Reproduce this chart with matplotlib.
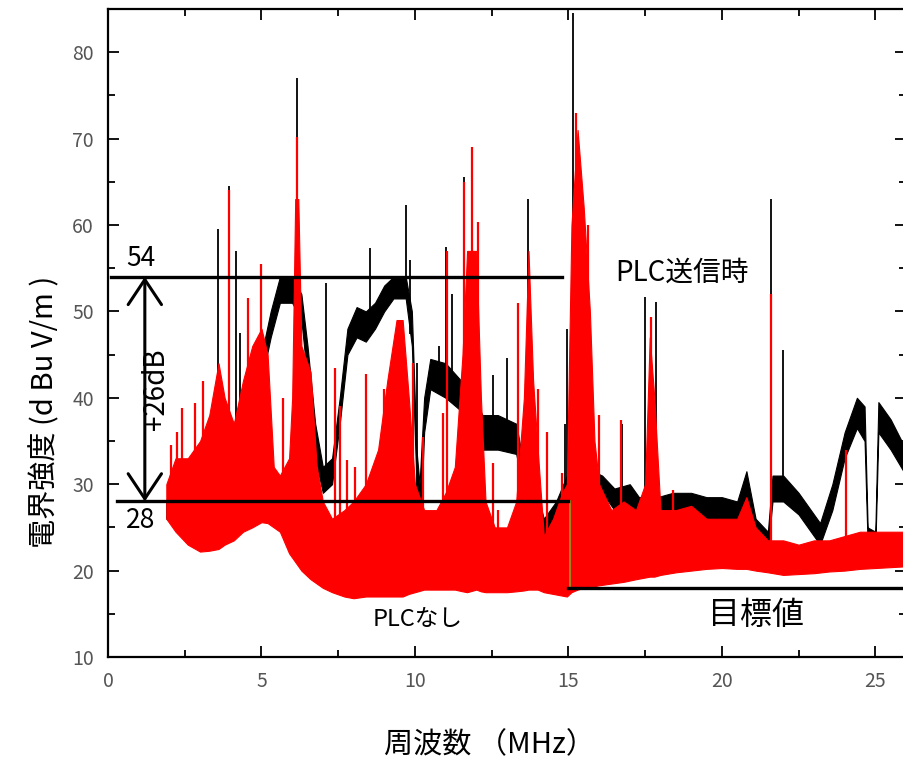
import matplotlib
matplotlib.use("Agg")
import matplotlib.pyplot as plt
import numpy as np

plt.rcParams['font.family'] = ['Noto Sans CJK JP', 'DejaVu Sans']

# PLCなし (red): dense band, lower / upper edge
red_f = [1.9, 2.2, 2.6, 3.0, 3.3, 3.6, 3.8, 4.1, 4.4, 4.7, 5.0, 5.2, 5.4, 5.6, 5.9,
         6.0, 6.1, 6.2, 6.3, 6.6, 6.8, 7.0, 7.3, 7.7, 8.0, 8.4, 8.8, 9.1, 9.4, 9.6,
         9.8, 10.0, 10.3, 10.7, 11.0, 11.3, 11.55, 11.7, 12.0, 12.15, 12.3, 12.6, 13.0,
         13.3, 13.55, 13.7, 13.85, 14.0, 14.2, 14.5, 14.8, 14.95, 15.1, 15.3, 15.5,
         15.7, 15.85, 16.0, 16.4, 16.8, 17.2, 17.5, 17.65, 17.8, 18.0, 18.5, 19.0,
         19.5, 20.0, 20.5, 20.8, 21.1, 21.5, 22.0, 22.5, 23.0, 23.5, 24.0, 24.5,
         25.0, 25.5, 26.0]
red_lo = [26, 24.5, 23, 22.2, 22.3, 22.5, 23, 23.5, 24.5, 25, 25.6, 25.5, 25, 24.5, 22,
          21.5, 21, 20.5, 20, 19, 18.5, 18, 17.5, 17, 16.8, 17, 17, 17, 17, 17,
          17.3, 17.5, 17.8, 17.8, 17.8, 17.8, 17.6, 17.5, 17.8, 17.6, 17.5, 17.5, 17.5,
          17.6, 17.7, 17.8, 17.8, 17.8, 17.5, 17.3, 17.1, 17, 17.5, 17.8, 18,
          18.2, 18.2, 18.3, 18.5, 18.7, 19, 19.2, 19.3, 19.3, 19.5, 19.8, 20,
          20.2, 20.3, 20.2, 20.2, 20, 19.8, 19.5, 19.6, 19.7, 19.9, 20, 20.2,
          20.3, 20.4, 20.5]
red_hi = [30, 33, 33, 35, 38, 44, 40, 37, 42, 46, 48, 45, 32, 31, 33,
          40, 63, 63, 46, 43, 32, 28, 26, 27, 28, 30, 34, 42, 49, 49,
          40, 30, 27, 27, 29, 32, 45, 57, 57, 40, 28, 25, 25,
          28, 40, 57, 42, 34, 24, 26, 29, 30, 60, 71, 62,
          50, 35, 30, 27, 28, 27, 30, 47, 40, 27, 27, 27.5,
          26, 26, 26, 28.5, 25, 23.5, 23.5, 23, 23.5, 23.5, 24, 24.5,
          24.5, 24.5, 24.5]

red_spike_f = [2.05, 2.25, 2.4, 2.83, 3.1, 3.95, 4.56, 5.0, 5.7, 6.15, 6.8, 7.4, 7.55,
               7.8, 8.05, 8.4, 8.75, 9.0, 9.95, 10.27, 10.9, 11.05, 11.6, 11.85, 12.05,
               12.55, 12.7, 13.35, 13.8, 14.0, 14.3, 14.8, 15.25, 15.65, 16.0, 16.7,
               17.7, 18.4, 21.6, 24.05]
red_spike_top = [34.5, 36, 38.8, 39.4, 42, 64, 51.5, 55.5, 40, 70.2, 32, 43.5, 39,
                 32.8, 32, 42.8, 32.5, 41, 44, 35.5, 38.2, 57, 65, 69, 60.3,
                 32.4, 27, 51, 43, 41, 36, 31.3, 73, 60, 38, 37.4,
                 49.4, 29.3, 52, 34]

# PLC送信時 (black): band lower / upper edge
blk_f = [1.9, 2.5, 3.0, 3.5, 4.0, 4.5, 5.0, 5.3, 5.6, 6.0, 6.3, 6.5, 6.75, 7.0, 7.3,
         7.55, 7.8, 8.1, 8.4, 8.7, 9.0, 9.3, 9.7, 9.9, 10.05, 10.15, 10.3, 10.5, 11.0,
         11.5, 11.8, 12.2, 12.7, 13.3, 13.5, 13.9, 14.2, 14.6, 14.95, 15.2, 15.8, 16.1,
         16.5, 17.0, 17.3, 17.9, 18.4, 19.0, 19.5, 20.0, 20.5, 20.8, 21.1, 21.5, 21.65,
         22.0, 22.5, 23.0, 23.2, 23.6, 24.0, 24.4, 24.65, 24.75, 25.0, 25.1, 25.5, 26.0]
blk_lo = [26, 28, 30, 34, 33, 38, 42, 47, 51, 51, 49, 42, 33, 29, 30,
          37, 45, 47, 46.5, 48, 50, 51.5, 51.5, 46, 30, 23, 36, 41, 40,
          38.5, 38, 34, 34, 33.5, 30, 27, 23, 25.5, 28.5, 27, 29, 29,
          27, 27.5, 26, 26, 26.5, 26, 25.5, 26, 25.5, 28, 23.5, 22.5, 28,
          28, 26.5, 24, 23, 27, 33, 36.5, 35, 23, 22.5, 36, 34, 31]
blk_hi = [28, 31, 33, 38, 36, 41, 45, 50, 54, 54, 52, 46, 37, 32, 33,
          40, 48, 50.5, 50, 51, 53, 54, 54, 50, 34, 30, 40, 44.5, 44,
          42, 41, 38, 38, 37, 33, 30, 26, 28, 31, 30, 31.5, 31,
          29.5, 30, 28.5, 28.5, 29, 29, 28.5, 28.5, 28, 31.5, 26, 24.5, 31,
          31, 29, 26.5, 25.5, 30, 36, 40, 39, 25, 24.5, 39.5, 37.5, 34]

blk_spike_f = [3.6, 3.95, 4.17, 4.3, 6.15, 7.1, 8.55, 9.7, 9.85, 10.06, 10.8, 11.0,
               11.2, 11.6, 12.1, 12.55, 13.0, 13.7, 14.9, 14.97, 15.15, 16.75, 17.5,
               17.85, 21.6, 22.0]
blk_spike_top = [59.5, 64.5, 57, 47.5, 77, 53.3, 57.3, 62.3, 56, 44, 46, 57.5,
                 52, 65.5, 40.5, 42.6, 44.6, 63, 37, 48, 84.5, 37, 51.7,
                 51.1, 63, 45.5]

level_on = 54
level_off = 28
target = 18

fig = plt.figure(figsize=(9.04, 7.63), dpi=100)
ax = fig.add_axes([108 / 904, 106 / 763, 798 / 904, 648 / 763])

# black first, red drawn over it
ax.fill_between(blk_f, blk_lo, blk_hi, color='black', lw=0.8, zorder=2)
bbase = np.interp(blk_spike_f, blk_f, blk_lo)
ax.vlines(blk_spike_f, bbase, blk_spike_top, color='black', lw=1.3, zorder=2)

ax.fill_between(red_f, red_lo, red_hi, color='#ff0000', lw=0.8, zorder=3)
rbase = np.interp(red_spike_f, red_f, red_lo) + 1
ax.vlines(red_spike_f, rbase, red_spike_top, color='#ff0000', lw=1.6, zorder=3)

# level lines
ax.plot([0.1, 14.8], [level_on, level_on], color='black', lw=2.4, zorder=5)
ax.plot([0.3, 15.0], [level_off, level_off], color='black', lw=2.4, zorder=5)
ax.plot([15.0, 26], [target, target], color='black', lw=2.4, zorder=5)
ax.plot([15.05, 15.05], [target, level_off], color='#8aa020', lw=1.2, zorder=4)

ax.annotate('', xy=(1.2, level_on), xytext=(1.2, level_off),
            arrowprops=dict(arrowstyle='<->,head_length=0.9,head_width=0.6',
                            lw=2.2, color='black', mutation_scale=20,
                            shrinkA=0, shrinkB=0), zorder=6)
ax.text(0.6, level_on + 0.6, '54', fontsize=19, ha='left', va='bottom')
ax.text(0.6, level_off - 0.6, '28', fontsize=19, ha='left', va='top')
ax.text(1.55, 41, '+26dB', fontsize=20, rotation=90, ha='center', va='center')

ax.text(18.7, 54.5, 'PLC送信時', fontsize=20, ha='center', va='center')
ax.text(10.1, 14.3, 'PLCなし', fontsize=17, ha='center', va='center')
ax.text(21.1, 14.9, '目標値', fontsize=23, ha='center', va='center')

ax.set_xlim(0, 26)
ax.set_ylim(10, 85)
ax.set_xticks([0, 5, 10, 15, 20, 25])
ax.set_xticks(np.arange(2.5, 26, 5), minor=True)
ax.set_yticks(range(10, 81, 10))
ax.set_yticks(range(15, 86, 10), minor=True)
ax.tick_params(which='both', direction='in', top=True, right=True, width=1.3,
               labelsize=14, labelcolor='#555555')
ax.tick_params(which='major', length=8, pad=10)
ax.tick_params(which='minor', length=5)
for s in ax.spines.values():
    s.set_linewidth(1.6)

fig.text(490 / 904, 1 - 745 / 763, '周波数 （MHz）', fontsize=21, ha='center', va='center')
fig.text(45 / 904, 1 - 412 / 763, '電界強度 (d Bu V/m )', fontsize=21, rotation=90,
         ha='center', va='center')

fig.savefig('out.png', dpi=100)
